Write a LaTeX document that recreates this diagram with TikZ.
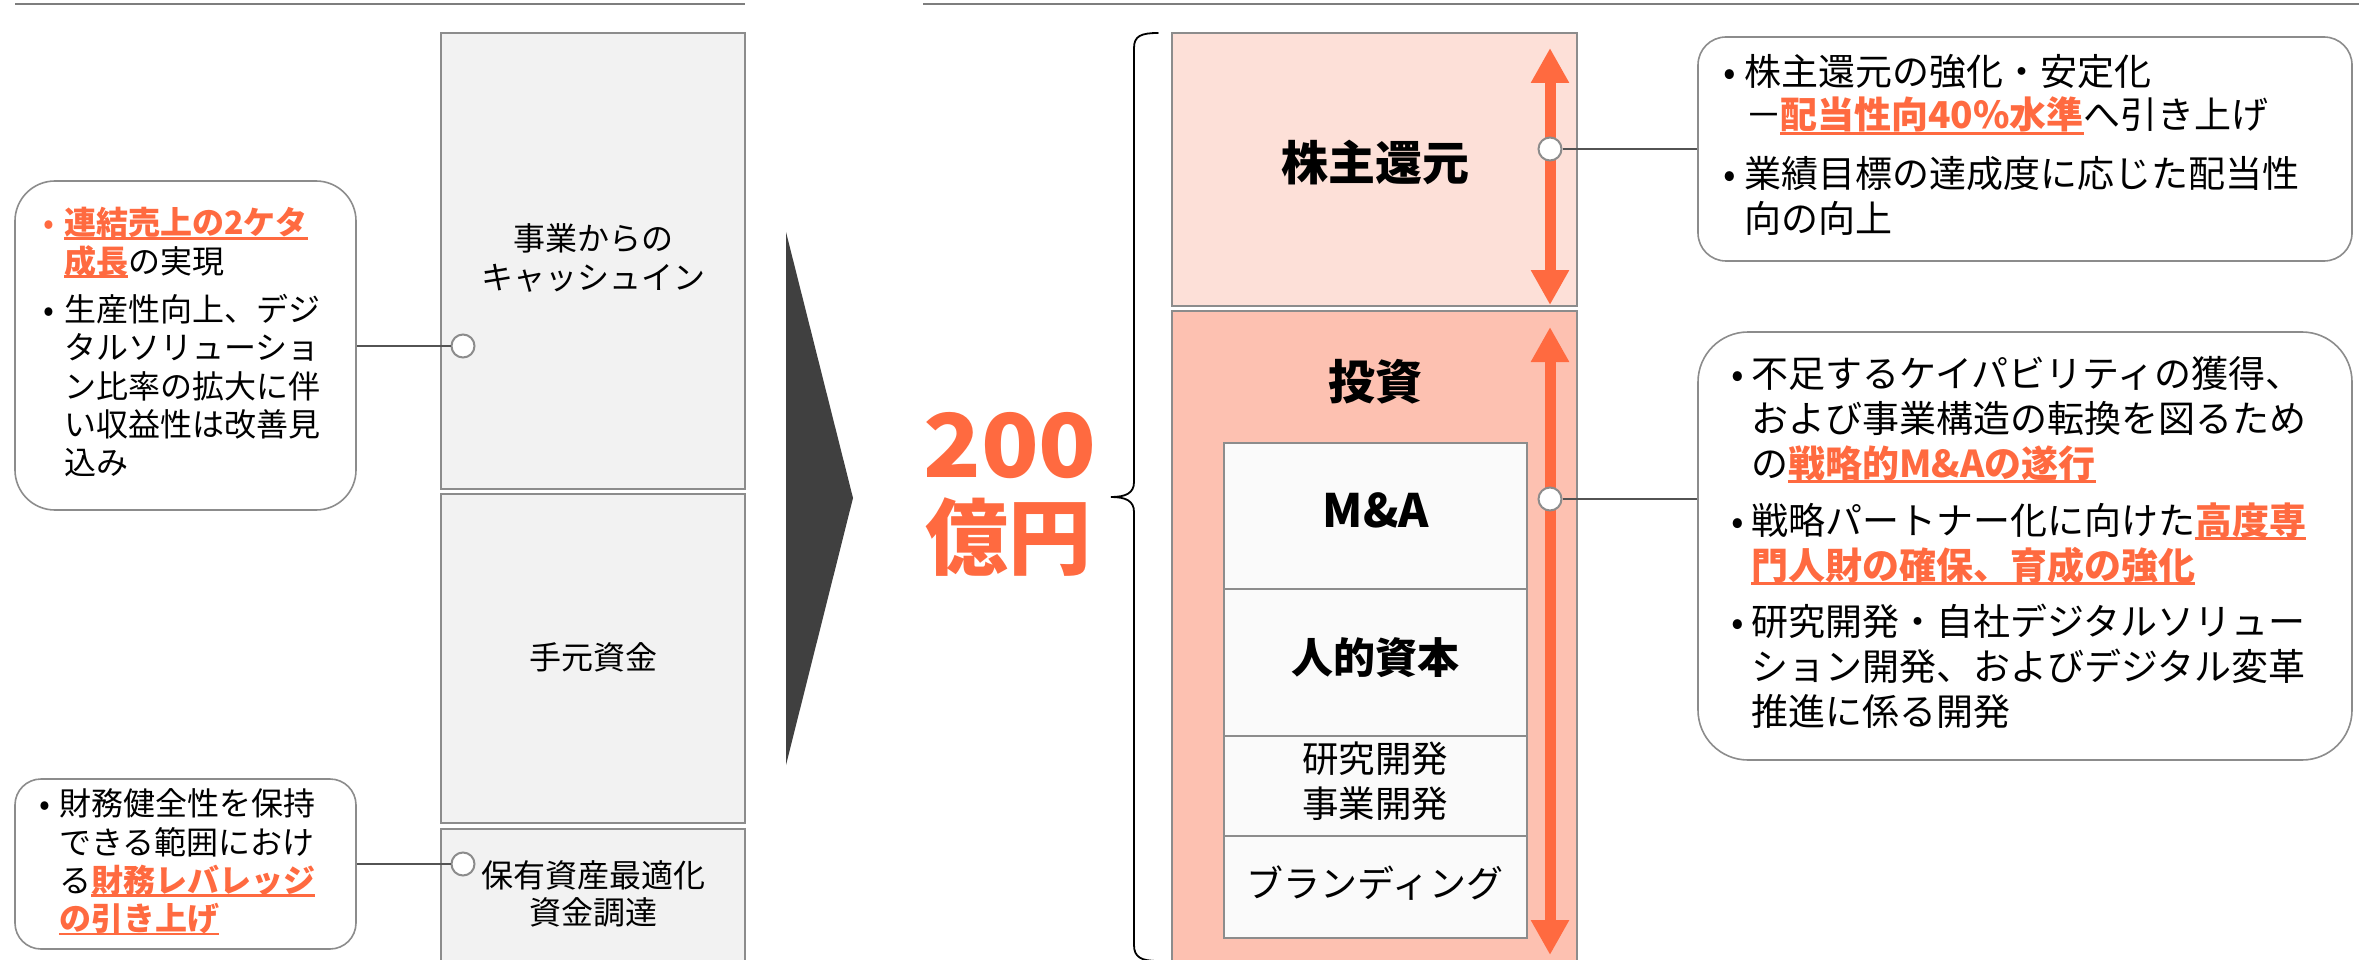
\documentclass[tikz,border=0pt]{standalone}
\usepackage{fontspec}
\setmainfont{Noto Sans CJK JP}
\usetikzlibrary{arrows.meta}
\definecolor{orng}{HTML}{FF6A40}
\definecolor{pinkA}{HTML}{FDE0D8}
\definecolor{pinkB}{HTML}{FDC1B1}
\definecolor{gfill}{HTML}{F2F2F2}
\definecolor{wfill}{HTML}{FAFAFA}
\definecolor{bord}{HTML}{8C8C8C}
\definecolor{dark}{HTML}{404040}
\newcommand\bul[1]{\makebox[#1][c]{•}}
\newcommand\hl[1]{{\color{orng}\bfseries\setbox0=\hbox{#1}\rlap{\rule[-0.15em]{\wd0}{0.08em}}\box0}}
\newcommand\fL{\fontsize{32}{38}\selectfont}
\newcommand\fR{\fontsize{37}{44}\selectfont}
\begin{document}
\begin{tikzpicture}[x=1pt,y=-1pt,
  gbox/.style={draw=bord, fill=gfill, line width=2.5pt, inner sep=0pt},
  pbox/.style={draw=bord, line width=2.5pt, inner sep=0pt},
  ibox/.style={draw=bord, fill=wfill, line width=2.5pt, inner sep=0pt, minimum width=303pt},
  callout/.style={draw=bord, fill=white, line width=1.6pt, inner sep=0pt},
  dot/.style={circle, draw=bord, fill=white, line width=2pt, minimum size=23pt, inner sep=0pt},
  conn/.style={draw=dark!90, line width=1.6pt},
  topline/.style={draw=bord!90!black, line width=2.5pt},
  oarrow/.style={draw=orng, line width=11pt, {Triangle[length=35pt,width=36pt]}-{Triangle[length=35pt,width=36pt]}},
  tl/.style={inner sep=0pt, anchor=base west},
  tc/.style={inner sep=0pt, anchor=base},
]
\useasboundingbox (0,0) rectangle (2359,960);
\clip (0,0) rectangle (2359,960);
\fill[white] (0,0) rectangle (2359,960);

% top rules
\draw[topline] (15,4) -- (745,4);
\draw[topline] (923,4) -- (2359,4);

% left column boxes
\node[gbox, minimum width=304pt, minimum height=456pt] (boxA) at (593,261) {};
\node[gbox, minimum width=304pt, minimum height=329pt] (boxB) at (593,658.5) {};
\node[gbox, minimum width=304pt, minimum height=161pt] (boxC) at (593,909.5) {};
\node[tc, font=\fL] (bA1) at (593,250.5) {事業からの};
\node[tc, font=\fL] (bA2) at (593,289) {キャッシュイン};
\node[tc, font=\fL] (bB) at (593,669) {手元資金};
\node[tc, font=\fL] (bC1) at (593,887) {保有資産最適化};
\node[tc, font=\fL] (bC2) at (593,924) {資金調達};

% left callouts
\node[callout, rounded corners=40pt, minimum width=341pt, minimum height=329pt] (cl1) at (185.5,345.5) {};
\node[callout, rounded corners=26pt, minimum width=341pt, minimum height=170pt] (cl2) at (185.5,864) {};

\node[tl, font=\fL] (l1a) at (33,235) {{\color{orng}\bul{31pt}}\hl{連結売上の2ケタ}};
\node[tl, font=\fL] (l1b) at (64,273) {\hl{成長}の実現};
\node[tl, font=\fL] (l1c) at (33,321) {\bul{31pt}生産性向上、デジ};
\node[tl, font=\fL] (l1d) at (64,359.5) {タルソリューショ};
\node[tl, font=\fL] (l1e) at (64,398) {ン比率の拡大に伴};
\node[tl, font=\fL] (l1f) at (64,436) {い収益性は改善見};
\node[tl, font=\fL] (l1g) at (64,474) {込み};

\node[tl, font=\fL] (l2a) at (31,815.5) {\bul{28pt}財務健全性を保持};
\node[tl, font=\fL] (l2b) at (59,854) {できる範囲におけ};
\node[tl, font=\fL] (l2c) at (59,892) {る\hl{財務レバレッジ}};
\node[tl, font=\fL] (l2d) at (59,930.5) {\hl{の引き上げ}};

% left connectors
\node[dot] (c1) at (463,346) {};
\node[dot] (c2) at (463,864) {};
\draw[conn] (c1.west -| cl1.east) -- (c1.west);
\draw[conn] (c2.west -| cl2.east) -- (c2.west);

% big chevron
\fill[dark] (786,232) -- (853,498) -- (786,765) -- cycle;

% 200 oku-en
\node[tc, font=\fontsize{88}{90}\selectfont\bfseries, text=orng] (amt) at (1010,477) {\scalebox{1.08}[1]{200}};
\node[tc, font=\fontsize{83}{90}\selectfont\bfseries, text=orng] (unit) at (1008,568.5) {億円};

% brace
\draw[line width=1.8pt, line cap=round] (1158,33) .. controls (1141,33) and (1134,36) .. (1134,48) -- (1134,482) .. controls (1134,493) and (1126,497) .. (1111,497) .. controls (1126,497) and (1134,501) .. (1134,512) -- (1134,945) .. controls (1134,957) and (1141,961) .. (1158,961);

% right boxes
\node[pbox, fill=pinkA, minimum width=405pt, minimum height=273pt] (boxR1) at (1374.5,169.5) {};
\node[pbox, fill=pinkB, minimum width=405pt, minimum height=679pt] (boxR2) at (1374.5,650.5) {};
\node[tc, font=\fontsize{47}{50}\selectfont\bfseries] (tR1) at (1375,181) {株主還元};
\node[tc, font=\fontsize{47}{50}\selectfont\bfseries] (tR2) at (1375,399.6) {投資};

\node[ibox, minimum height=146pt] (iMA) at (1375.5,516) {};
\node[ibox, minimum height=147pt] (iHC) at (1375.5,662.5) {};
\node[ibox, minimum height=100pt] (iRD) at (1375.5,786) {};
\node[ibox, minimum height=102pt] (iBR) at (1375.5,887) {};
\node[tc, font=\fontsize{46}{50}\selectfont\bfseries] (tMA) at (1376,527.6) {M\&A};
\node[tc, font=\fontsize{42}{50}\selectfont\bfseries] (tHC) at (1375,673.5) {人的資本};
\node[tc, font=\fontsize{36.5}{40}\selectfont] (tRD1) at (1375,772) {研究開発};
\node[tc, font=\fontsize{36.5}{40}\selectfont] (tRD2) at (1375,817) {事業開発};
\node[tc, font=\fontsize{37}{40}\selectfont] (tBR) at (1375,897) {ブランディング};

% orange arrows
\coordinate (a1t) at (1550,48);
\coordinate (a1b) at (1550,305);
\coordinate (a2t) at (1550,327);
\coordinate (a2b) at (1550,955);
\draw[oarrow] (a1t) -- (a1b);
\draw[oarrow] (a2t) -- (a2b);

% right callouts
\node[callout, rounded corners=28pt, minimum width=654pt, minimum height=224pt] (rc1) at (2025,149) {};
\node[callout, rounded corners=50pt, minimum width=654pt, minimum height=428pt] (rc2) at (2025,546) {};

\node[dot] (c3) at (1550,149) {};
\node[dot] (c4) at (1550,499) {};
\draw[conn] (c3.east) -- (c3.east -| rc1.west);
\draw[conn] (c4.east) -- (c4.east -| rc2.west);

\node[tl, font=\fR] (r1a) at (1715.4,85.7) {\bul{28.6pt}株主還元の強化・安定化};
\node[tl, font=\fR] (r1b) at (1748,129) {\makebox[32pt][c]{－}\hl{配当性向40\%水準}へ引き上げ};
\node[tl, font=\fR] (r1c) at (1715.4,187.3) {\bul{28.6pt}業績目標の達成度に応じた配当性};
\node[tl, font=\fR] (r1d) at (1744,232.3) {向の向上};

\node[tl, font=\fR] (r2a) at (1725,387.3) {\bul{26pt}不足するケイパビリティの獲得、};
\node[tl, font=\fR] (r2b) at (1751,432.3) {および事業構造の転換を図るため};
\node[tl, font=\fR] (r2c) at (1751,477.3) {の\hl{戦略的M\&Aの遂行}};
\node[tl, font=\fR] (r2d) at (1725,534) {\bul{26pt}戦略パートナー化に向けた\hl{高度専}};
\node[tl, font=\fR] (r2e) at (1751,579) {\hl{門人財の確保、育成の強化}};
\node[tl, font=\fR] (r2f) at (1725,635.7) {\bul{26pt}研究開発・自社デジタルソリュー};
\node[tl, font=\fR] (r2g) at (1751,680.7) {ション開発、およびデジタル変革};
\node[tl, font=\fR] (r2h) at (1751,725.7) {推進に係る開発};
\end{tikzpicture}
\end{document}
